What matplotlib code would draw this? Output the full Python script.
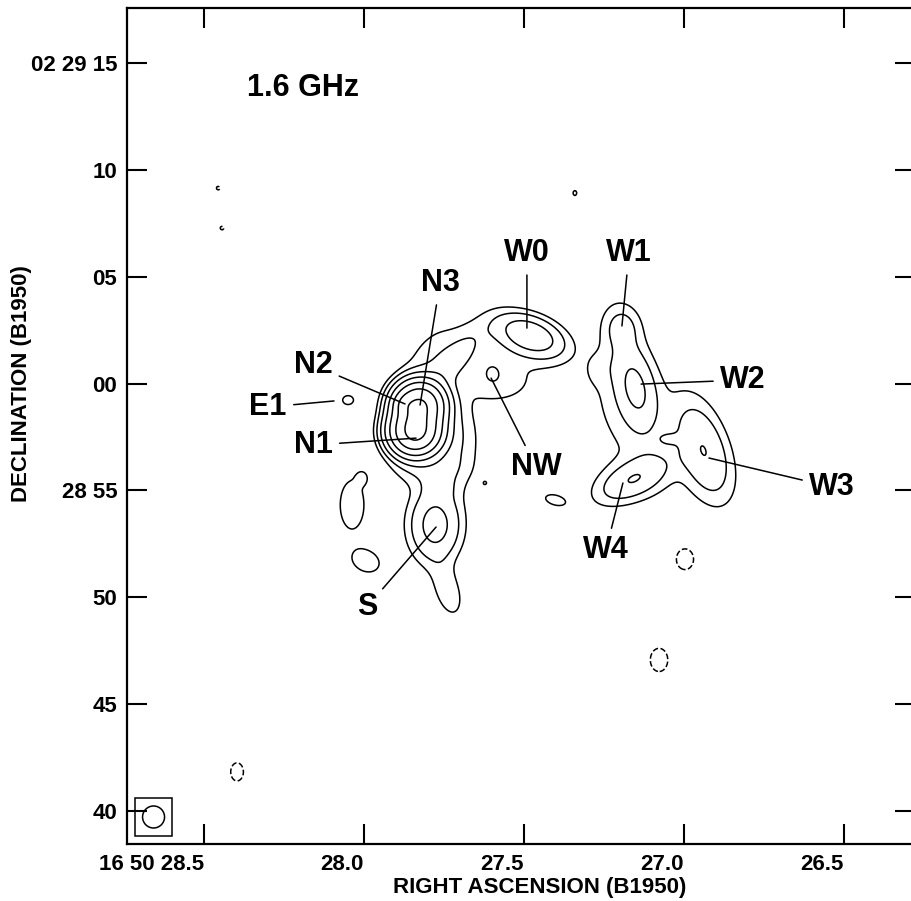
import numpy as np
import matplotlib.pyplot as plt
from matplotlib.patches import Ellipse, Rectangle

plt.rcParams['font.family'] = ['Liberation Sans', 'DejaVu Sans']
plt.rcParams['font.weight'] = 'bold'

# Gaussian components of the 1.6 GHz map
# position: RA seconds past 16 50, Dec arcsec past 02 28 00
# sizes in arcsec, angle in degrees (from west, counter-clockwise), peak in units of the lowest contour
comp_names = ['N1', 'N3', 'N2', 'bridge', 'diag', 'N east', 'N south', 'W0', 'W0 halo', 'NW',
              'NW bridge', 'S', 'S tail', 'neck', 'E1', 'blob a', 'blob a2', 'blob b', 'blob c',
              'dot', 'knot',
              'neg a', 'neg b', 'neg c', 'neg d', 'neg e',
              'W1', 'W2', 'W ridge', 'W diffuse', 'W3', 'W south', 'W4', 'W lobe', 'W knot']
comp_ra = [27.841, 27.828, 27.875, 27.7375, 27.809, 27.731, 27.809, 27.481, 27.559, 27.600,
           27.591, 27.778, 27.7375, 27.7625, 28.050, 28.0375, 28.006, 27.994, 27.403,
           27.622, 27.341,
           28.397, 26.997, 27.078, 28.456, 28.444,
           27.194, 27.150, 27.169, 27.200, 26.9375, 27.075, 27.1625, 27.269, 27.050]
comp_dec = [57.735, 59.00, 59.05, 60.87, 61.50, 57.36, 55.96, 62.27, 61.10, 60.54,
            59.84, 53.38, 50.25, 55.11, 59.23, 54.32, 55.58, 51.70, 54.55,
            55.35, 68.92,
            41.83, 51.79, 47.07, 69.15, 67.28,
            62.65, 59.79, 60.40, 58.76, 56.89, 55.49, 55.49, 60.73, 57.41]
comp_su = [0.655, 0.655, 0.28, 1.60, 1.31, 0.94, 1.17, 1.03, 1.87, 0.37,
           1.03, 0.80, 0.94, 0.56, 0.28, 0.51, 0.19, 0.56, 0.47,
           0.09, 0.14,
           0.33, 0.42, 0.42, 0.14, 0.14,
           0.56, 1.17, 2.57, 2.11, 1.60, 2.34, 1.17, 0.47, 0.37]
comp_sv = [0.608, 0.608, 0.28, 0.56, 0.56, 1.40, 0.56, 0.56, 1.31, 0.42,
           0.66, 1.12, 0.47, 0.37, 0.23, 1.03, 0.23, 0.42, 0.23,
           0.09, 0.19,
           0.47, 0.51, 0.56, 0.14, 0.14,
           0.66, 0.56, 0.84, 2.10, 0.75, 1.40, 0.56, 0.56, 0.23]
comp_ang = [0, 0, 0, 47, 50, 0, 0, -20, -20, 0,
            0, 0, -73, 0, 0, 0, 0, -25, -15,
            0, 0,
            0, 0, 0, 0, 0,
            0, -78, -78, 0, -72, 0, 25, 0, 0]
comp_peak = [75, 65, 8, 2.4, 1.0, 2.2, 1.5, 6.5, 0.9, 1.0,
             0.8, 5.1, 1.7, 0.6, 1.5, 1.8, 1.3, 1.9, 1.5,
             1.1, 1.2,
             -1.5, -1.6, -1.6, -1.2, -1.2,
             1.8, 3.0, 1.3, 0.8, 3.75, 0.4, 3.4, 0.6, 1.0]

levels = [-1, 1, 2, 4, 8, 16, 32, 64]

# component labels: name, text position, pointer position (RA s, Dec ")
label_names = ['N3', 'N2', 'E1', 'N1', 'W0', 'NW', 'W1', 'W2', 'W3', 'W4', 'S']
label_text_ra = [27.7625, 28.159, 28.300, 28.159, 27.491, 27.4625, 27.172, 26.816, 26.5375, 27.244, 27.991]
label_text_dec = [64.71, 60.87, 58.905, 57.13, 66.11, 56.10, 66.11, 60.17, 55.16, 52.21, 49.55]
label_pt_ra = [27.825, 27.872, 28.094, 27.8375, 27.491, 27.603, 27.194, 27.134, 26.922, 27.191, 27.775]
label_pt_dec = [59.00, 59.05, 59.19, 57.45, 62.60, 60.26, 62.70, 59.98, 56.52, 55.35, 53.29]

ra_ticks = [28.5, 28.0, 27.5, 27.0, 26.5]
ra_ticklabels = ['16 50 28.5', '28.0', '27.5', '27.0', '26.5']
dec_ticks = [75, 70, 65, 60, 55, 50, 45, 40]
dec_ticklabels = ['02 29 15', '10', '05', '00', '28 55', '50', '45', '40']

# restoring beam (RA s, Dec ", diameter in ")
beam_ra, beam_dec, beam_size = 28.658, 39.72, 1.03

ra_lim = (28.741, 26.278)
dec_lim = (38.456, 77.58)

# build the map
cosd = np.cos(np.radians(2.49))
ra = np.linspace(ra_lim[0], ra_lim[1], 700)
dec = np.linspace(dec_lim[0], dec_lim[1], 800)
RA, DEC = np.meshgrid(ra, dec)
field = np.zeros_like(RA)
for r0, d0, su, sv, ang, pk in zip(comp_ra, comp_dec, comp_su, comp_sv, comp_ang, comp_peak):
    dx = (r0 - RA) * 15 * cosd
    dy = DEC - d0
    t = np.radians(ang)
    u = dx * np.cos(t) + dy * np.sin(t)
    v = -dx * np.sin(t) + dy * np.cos(t)
    field += pk * np.exp(-0.5 * ((u / su) ** 2 + (v / sv) ** 2))

fig = plt.figure(figsize=(9.12, 9.01), dpi=100)
ax = fig.add_axes([127 / 912, 57 / 901, 788 / 912, 836 / 901])
ax.contour(RA, DEC, field, levels=levels, colors='k', linewidths=1.1,
           negative_linestyles='dashed')
ax.set_xlim(ra_lim)
ax.set_ylim(dec_lim)

# beam in a box, lower left
bw = beam_size / (15 * cosd)
ax.add_patch(Ellipse((beam_ra, beam_dec), bw, beam_size, fill=False, lw=1.1, color='k'))
ax.add_patch(Rectangle((beam_ra + 0.85 * bw, beam_dec - 0.88), -1.7 * bw, 1.76,
                       fill=False, lw=1.1, color='k'))

for name, tr, td, pr, pd in zip(label_names, label_text_ra, label_text_dec, label_pt_ra, label_pt_dec):
    ax.annotate(name, xy=(pr, pd), xytext=(tr, td), ha='center', va='center',
                fontsize=22, fontweight='bold',
                arrowprops=dict(arrowstyle='-', color='k', lw=1.1, shrinkA=3, shrinkB=0))

ax.text(28.191, 73.83, '1.6 GHz', ha='center', va='center', fontsize=22, fontweight='bold')

ax.set_xticks(ra_ticks)
ax.set_xticklabels(ra_ticklabels, ha='right')
ax.set_yticks(dec_ticks)
ax.set_yticklabels(dec_ticklabels)
ax.tick_params(direction='in', length=14.5, width=1.5, top=True, right=True,
               labelsize=16, pad=7)
for s in ax.spines.values():
    s.set_linewidth(1.6)

fig.text(540 / 912, 1 - 887 / 901, 'RIGHT ASCENSION (B1950)', ha='center', va='center',
         fontsize=16, fontweight='bold')
fig.text(22 / 912, 1 - 384 / 901, 'DECLINATION (B1950)', ha='center', va='center',
         rotation=90, fontsize=16, fontweight='bold')

fig.savefig('out.png', dpi=100)
